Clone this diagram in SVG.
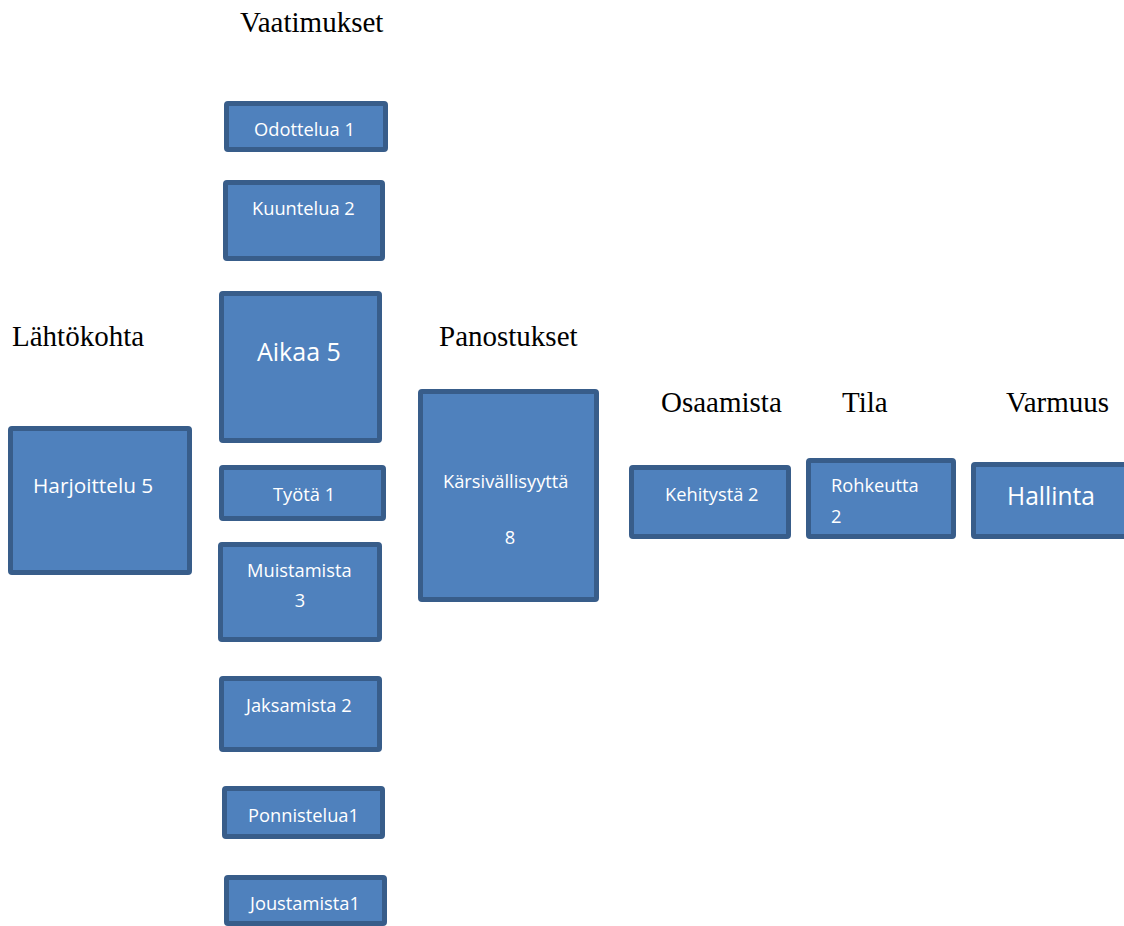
<svg xmlns="http://www.w3.org/2000/svg" width="1124" height="926" viewBox="0 0 1124 926">
<style>
.box{fill:#4F81BD;stroke:#385D8A;stroke-width:5}
.t{font-family:"Open Sans","Noto Sans",sans-serif;font-size:18.3px;fill:#FFFFFF}
.h{font-family:"Liberation Serif","Times New Roman",serif;font-size:29px;fill:#000000}
</style>
<rect width="1124" height="926" fill="#FFFFFF"/>
<g id="headers">
<text class="h" x="240" y="32">Vaatimukset</text>
<text class="h" x="12" y="346">Lähtökohta</text>
<text class="h" x="439" y="346">Panostukset</text>
<text class="h" x="661" y="412">Osaamista</text>
<text class="h" x="842" y="412">Tila</text>
<text class="h" x="1006" y="412">Varmuus</text>
</g>
<g id="harjoittelu"><rect class="box" x="10.5" y="428.5" width="179" height="144" rx="1.5"/><text class="t" x="33" y="493" style="font-size:20.8px">Harjoittelu 5</text></g>
<g id="odottelua"><rect class="box" x="226.5" y="103.5" width="159" height="46" rx="1.5"/><text class="t" x="254" y="136">Odottelua 1</text></g>
<g id="kuuntelua"><rect class="box" x="225.5" y="182.5" width="157" height="76" rx="1.5"/><text class="t" x="252" y="215">Kuuntelua 2</text></g>
<g id="aikaa"><rect class="box" x="221.5" y="293.5" width="158" height="147" rx="1.5"/><text class="t" x="257" y="361" style="font-size:25px">Aikaa 5</text></g>
<g id="tyota"><rect class="box" x="221.5" y="467.5" width="162" height="51" rx="1.5"/><text class="t" x="273" y="501">Työtä 1</text></g>
<g id="muistamista"><rect class="box" x="220.5" y="544.5" width="159" height="95" rx="1.5"/><text class="t" x="247" y="577">Muistamista</text><text class="t" x="300" y="607" text-anchor="middle">3</text></g>
<g id="jaksamista"><rect class="box" x="221.5" y="678.5" width="158" height="71" rx="1.5"/><text class="t" x="246" y="712">Jaksamista 2</text></g>
<g id="ponnistelua"><rect class="box" x="224.5" y="788.5" width="158" height="48" rx="1.5"/><text class="t" x="248" y="822">Ponnistelua1</text></g>
<g id="joustamista"><rect class="box" x="226.5" y="877.5" width="158" height="46" rx="1.5"/><text class="t" x="250" y="910">Joustamista1</text></g>
<g id="karsivallisyytta"><rect class="box" x="420.5" y="391.5" width="176" height="208" rx="1.5"/><text class="t" x="443" y="488">Kärsivällisyyttä</text><text class="t" x="510" y="544" text-anchor="middle">8</text></g>
<g id="kehitysta"><rect class="box" x="631.5" y="467.5" width="157" height="69" rx="1.5"/><text class="t" x="665" y="501">Kehitystä 2</text></g>
<g id="rohkeutta"><rect class="box" x="808.5" y="460.5" width="145" height="76" rx="1.5"/><text class="t" x="831" y="492">Rohkeutta</text><text class="t" x="831" y="523">2</text></g>
<g id="hallinta"><rect class="box" x="973.5" y="464.5" width="160" height="72" rx="1.5"/><text class="t" x="1007" y="505" style="font-size:24.6px">Hallinta</text></g>
<g id="connectors"/>
</svg>
